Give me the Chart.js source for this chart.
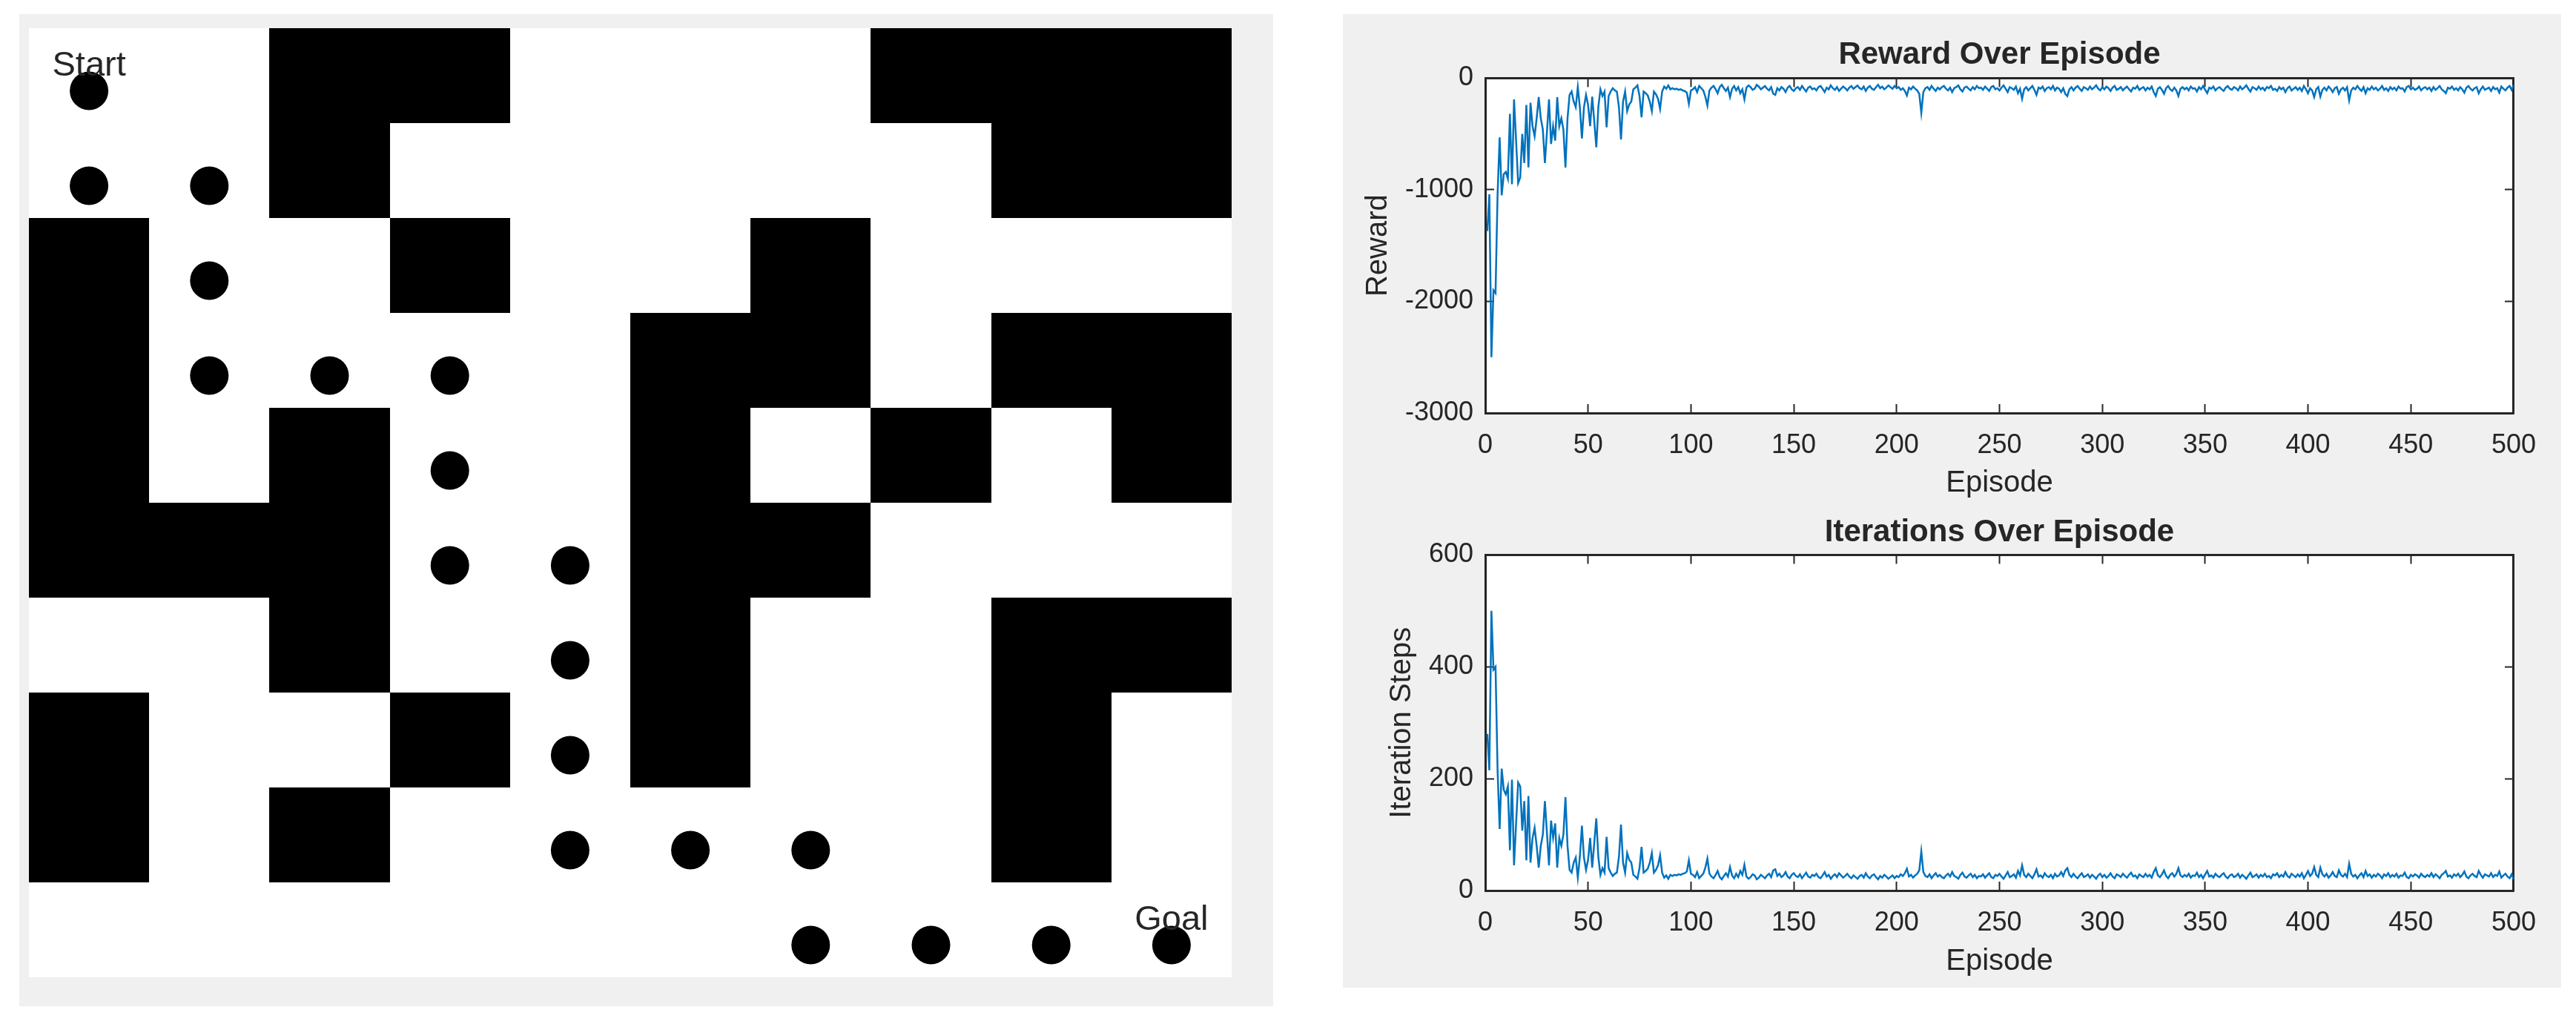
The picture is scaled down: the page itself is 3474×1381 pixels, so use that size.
<!DOCTYPE html>
<html>
<head>
<meta charset="utf-8">
<script src="https://cdn.jsdelivr.net/npm/chart.js@4.4.1/dist/chart.umd.min.js"></script>
<style>
html,body{margin:0;padding:0;background:#ffffff;}
body{width:3474px;height:1381px;position:relative;overflow:hidden;}
.panel{position:absolute;background:#f0f0f0;}
canvas{position:absolute;}
</style>
</head>
<body>
<div class="panel" style="left:26px;top:19px;width:1691px;height:1338px"></div>
<div class="panel" style="left:1811px;top:19px;width:1643px;height:1313px"></div>
<canvas id="maze" width="1622" height="1280" style="left:39px;top:38px;background:#ffffff"></canvas>
<canvas id="reward" width="1643" height="666" style="left:1811px;top:19px"></canvas>
<canvas id="steps" width="1643" height="647" style="left:1811px;top:685px"></canvas>
<script>
// ---------------- Maze data ----------------
const mazeGrid = [
  [0,0,1,1,0,0,0,1,1,1],
  [0,0,1,0,0,0,0,0,1,1],
  [1,0,0,1,0,0,1,0,0,0],
  [1,0,0,0,0,1,1,0,1,1],
  [1,0,1,0,0,1,0,1,0,1],
  [1,1,1,0,0,1,1,0,0,0],
  [0,0,1,0,0,1,0,0,1,1],
  [1,0,0,1,0,1,0,0,1,0],
  [1,0,1,0,0,0,0,0,1,0],
  [0,0,0,0,0,0,0,0,0,0]
];
const pathCols = [0,0,1,1,1,2,3,3,3,4,4,4,4,5,6,6,7,8,9];
const pathRows = [0,1,1,2,3,3,3,4,5,5,6,7,8,8,8,9,9,9,9];
const markerNames = ['Start','Goal'];
const markerCols = [0,9];
const markerRows = [0,9];

// ---------------- Training curves ----------------
const episodeTicks = [0,50,100,150,200,250,300,350,400,450,500];
const rewardTicks = [-3000,-2000,-1000,0];
const stepTicks = [0,200,400,600];
const episodes = Array.from({length:500},(_,i)=>i+1);

const iterationSteps = [
  280,215,500,395,400,215,110,218,180,172,
  186,72,198,45,120,193,186,107,160,54,
  169,50,94,112,80,41,80,100,160,103,
  45,125,94,120,41,94,80,100,167,80,
  37,32,50,59,23,60,116,59,37,55,
  94,41,85,129,59,28,40,32,96,40,
  32,26,30,32,60,118,50,32,67,55,
  50,28,25,21,40,78,32,35,39,50,
  67,32,37,45,63,32,23,27,21,28,
  26,28,27,29,28,30,31,34,54,30,
  28,24,33,22,26,30,41,57,30,25,22,28,35,24,20,26,31,25,42,27,
  22,30,24,35,28,46,25,21,24,29,27,20,23,28,25,22,27,30,24,36,
  38,26,30,24,27,33,25,22,28,31,26,24,29,22,27,32,25,23,28,26,
  30,24,22,27,33,25,28,21,26,29,24,31,27,23,26,30,25,22,27,24,
  21,26,28,23,31,25,22,27,29,24,20,26,23,28,25,21,24,27,22,26,
  24,29,26,31,39,25,28,23,27,30,36,70,33,26,24,29,22,27,31,25,
  28,24,22,27,30,25,33,26,24,21,28,32,25,23,27,30,24,28,22,26,
  25,29,23,27,31,24,22,28,26,30,25,21,27,33,24,26,29,23,35,27,
  45,28,24,30,26,22,29,38,25,27,23,31,26,24,28,22,30,25,27,33,
  26,36,40,28,24,30,25,22,27,31,24,26,29,23,28,25,21,27,30,24,
  28,23,26,31,25,22,29,27,24,30,26,23,28,32,25,27,22,29,26,24,
  30,25,28,23,33,40,27,24,29,36,26,22,28,31,25,30,40,27,24,28,
  25,30,23,27,26,32,24,28,22,29,35,25,27,23,30,26,24,28,31,25,
  22,27,29,24,26,30,23,28,25,21,27,32,24,26,29,23,28,25,30,24,
  26,22,29,27,31,24,28,25,33,26,23,30,27,24,29,25,31,22,28,35,
  26,30,42,28,24,41,29,25,30,23,27,33,26,24,36,28,25,30,24,48,
  30,25,28,22,27,31,24,35,26,29,23,28,25,30,27,22,29,26,31,24,
  28,25,30,23,27,26,32,24,22,28,25,29,27,23,30,26,24,28,25,31,
  24,29,26,22,28,31,35,25,27,23,29,26,30,24,28,34,25,22,27,30,
  26,24,35,28,23,29,27,25,31,24,28,26,34,23,27,30,25,22,29,20
];

const rewardValues = [
  -1370,-1040,-2500,-1900,-1925,-1040,-530,-1050,-860,-840,
  -900,-320,-950,-190,-560,-940,-890,-500,-760,-240,
  -800,-220,-430,-520,-360,-170,-360,-460,-760,-480,
  -190,-590,-430,-560,-170,-430,-360,-460,-800,-360,
  -150,-120,-210,-260,-80,-260,-540,-260,-150,-240,
  -430,-165,-385,-620,-255,-100,-160,-120,-440,-160,
  -120,-90,-110,-120,-260,-550,-210,-120,-295,-235,
  -210,-100,-85,-65,-160,-350,-120,-135,-155,-210,
  -295,-120,-145,-185,-275,-120,-75,-95,-65,-100,
  -90,-100,-95,-105,-100,-110,-115,-130,-230,-110,
  -100,-80,-125,-70,-90,-110,-165,-245,-110,-85,-70,-100,-135,-80,-60,-90,-115,-85,-170,-95,
  -70,-110,-80,-135,-100,-190,-85,-65,-80,-105,-95,-60,-75,-100,-85,-70,-95,-110,-80,-140,
  -150,-90,-110,-80,-95,-125,-85,-70,-100,-115,-90,-80,-105,-70,-95,-120,-85,-75,-100,-90,
  -110,-80,-70,-95,-125,-85,-100,-65,-90,-105,-80,-115,-95,-75,-90,-110,-85,-70,-95,-80,
  -65,-90,-100,-75,-115,-85,-70,-95,-105,-80,-60,-90,-75,-100,-85,-65,-80,-95,-70,-90,
  -80,-105,-90,-115,-155,-85,-100,-75,-95,-110,-140,-310,-125,-90,-80,-105,-70,-95,-115,-85,
  -100,-80,-70,-95,-110,-85,-125,-90,-80,-65,-100,-120,-85,-75,-95,-110,-80,-100,-70,-90,
  -85,-105,-75,-95,-115,-80,-70,-100,-90,-110,-85,-65,-95,-125,-80,-90,-105,-75,-135,-95,
  -185,-100,-80,-110,-90,-70,-105,-150,-85,-95,-75,-115,-90,-80,-100,-70,-110,-85,-95,-125,
  -90,-140,-160,-100,-80,-110,-85,-70,-95,-115,-80,-90,-105,-75,-100,-85,-65,-95,-110,-80,
  -100,-75,-90,-115,-85,-70,-105,-95,-80,-110,-90,-75,-100,-120,-85,-95,-70,-105,-90,-80,
  -110,-85,-100,-75,-125,-160,-95,-80,-105,-140,-90,-70,-100,-115,-85,-110,-160,-95,-80,-100,
  -85,-110,-75,-95,-90,-120,-80,-100,-70,-105,-135,-85,-95,-75,-110,-90,-80,-100,-115,-85,
  -70,-95,-105,-80,-90,-110,-75,-100,-85,-65,-95,-120,-80,-90,-105,-75,-100,-85,-110,-80,
  -90,-70,-105,-95,-115,-80,-100,-85,-125,-90,-75,-110,-95,-80,-105,-85,-115,-70,-100,-135,
  -90,-110,-170,-100,-80,-165,-105,-85,-110,-75,-95,-125,-90,-80,-140,-100,-85,-110,-80,-200,
  -110,-85,-100,-70,-95,-115,-80,-135,-90,-105,-75,-100,-85,-110,-95,-70,-105,-90,-115,-80,
  -100,-85,-110,-75,-95,-90,-120,-80,-70,-100,-85,-105,-95,-75,-110,-90,-80,-100,-85,-115,
  -80,-105,-90,-70,-100,-115,-135,-85,-95,-75,-105,-90,-110,-80,-100,-130,-85,-70,-95,-110,
  -90,-80,-135,-100,-75,-105,-95,-85,-115,-80,-100,-90,-130,-75,-95,-110,-85,-70,-105,-60
];

// ---------------- Shared style ----------------
const FONT = '"Liberation Sans", Arial, Helvetica, sans-serif';
const INK = '#262626';
const LINE = '#0072BD';
Chart.defaults.font.family = FONT;
Chart.defaults.color = INK;

// ---------------- Maze chart ----------------
const mazePlugin = {
  id: 'mazeCells',
  beforeDatasetsDraw(chart) {
    const {ctx, scales: {x, y}} = chart;
    ctx.save();
    ctx.fillStyle = '#000000';
    mazeGrid.forEach((row, r) => row.forEach((v, c) => {
      if (!v) return;
      const x0 = Math.round(x.getPixelForValue(c)), x1 = Math.round(x.getPixelForValue(c + 1));
      const y0 = Math.round(y.getPixelForValue(r)), y1 = Math.round(y.getPixelForValue(r + 1));
      ctx.fillRect(x0, y0, x1 - x0, y1 - y0);
    }));
    ctx.restore();
  },
  afterDatasetsDraw(chart) {
    const {ctx, scales: {x, y}} = chart;
    ctx.save();
    ctx.fillStyle = INK;
    ctx.font = '47px ' + FONT;
    ctx.textAlign = 'center';
    ctx.textBaseline = 'alphabetic';
    markerNames.forEach((name, i) => {
      ctx.fillText(name, x.getPixelForValue(markerCols[i] + 0.5), y.getPixelForValue(markerRows[i] + 0.5));
    });
    ctx.restore();
  }
};

new Chart(document.getElementById('maze'), {
  type: 'scatter',
  data: {
    datasets: [{
      data: pathCols.map((c, i) => ({x: c + 0.5, y: pathRows[i] + 0.5})),
      yAxisID: 'yd',
      pointRadius: 26,
      pointBackgroundColor: '#000000',
      pointBorderWidth: 0,
      showLine: false,
      clip: false
    }]
  },
  options: {
    responsive: false,
    animation: false,
    events: [],
    layout: {padding: 0, autoPadding: false},
    plugins: {legend: {display: false}, tooltip: {enabled: false}},
    scales: {
      x: {type: 'linear', min: 0, max: 10, display: false},
      y: {type: 'linear', min: 0, max: 10, reverse: true, display: false},
      yd: {type: 'linear', axis: 'y', min: -0.16, max: 9.84, reverse: true, display: false}
    }
  },
  plugins: [mazePlugin]
});

// ---------------- Line charts ----------------
const whiteArea = {
  id: 'whiteArea',
  beforeDraw(chart) {
    const {ctx, chartArea: a} = chart;
    ctx.save();
    ctx.fillStyle = '#ffffff';
    ctx.fillRect(a.left, a.top, a.right - a.left, a.bottom - a.top);
    ctx.restore();
  }
};
function tickSetter(list) {
  return s => { s.ticks = list.map(v => ({value: v})); };
}
function boxGrid() {
  return {display: true, drawOnChartArea: false, drawTicks: true, tickLength: -12,
          tickColor: INK, tickWidth: 2, color: 'rgba(0,0,0,0)'};
}
function boxBorder() { return {display: true, color: INK, width: 3}; }

function makeLine(id, values, yTickList, cfg) {
  const yMin = yTickList[0], yMax = yTickList[yTickList.length - 1];
  return new Chart(document.getElementById(id), {
    type: 'line',
    data: {
      labels: episodes,
      datasets: [{
        data: values,
        borderColor: LINE,
        borderWidth: 2.5,
        pointRadius: 0,
        tension: 0,
        fill: false
      }]
    },
    options: {
      responsive: false,
      animation: false,
      events: [],
      layout: {padding: {left: 0, right: 50, top: 0, bottom: 0}, autoPadding: false},
      plugins: {
        legend: {display: false},
        tooltip: {enabled: false},
        title: {
          display: true, text: cfg.title, color: INK, fullSize: false,
          font: {size: 42, weight: 'bold'},
          padding: {top: cfg.titleTop, bottom: cfg.titleBottom}
        }
      },
      scales: {
        x: {
          type: 'linear', position: 'bottom', min: 0, max: 500,
          afterBuildTicks: tickSetter(episodeTicks),
          afterFit: s => { s.height = cfg.xHeight; },
          ticks: {font: {size: 36}, color: INK, padding: 34, maxRotation: 0, autoSkip: false,
                  callback: v => String(v)},
          grid: boxGrid(),
          border: boxBorder(),
          title: {display: true, text: 'Episode', color: INK, font: {size: 40},
                  padding: {top: 0, bottom: cfg.xTitleBottom}}
        },
        x2: {
          type: 'linear', axis: 'x', position: 'top', min: 0, max: 500,
          afterBuildTicks: tickSetter(episodeTicks),
          afterFit: s => { s.height = 0; },
          ticks: {display: false},
          grid: boxGrid(),
          border: boxBorder()
        },
        y: {
          type: 'linear', position: 'left', min: yMin, max: yMax,
          afterBuildTicks: tickSetter(yTickList),
          afterFit: s => { s.width = 192; },
          ticks: {font: {size: 36}, color: INK, padding: 28, autoSkip: false,
                  callback: v => String(v)},
          grid: boxGrid(),
          border: boxBorder(),
          title: {display: true, text: cfg.yTitle, color: INK, font: {size: 40},
                  padding: {top: cfg.yTitlePad, bottom: 0}}
        },
        y2: {
          type: 'linear', axis: 'y', position: 'right', min: yMin, max: yMax,
          afterBuildTicks: tickSetter(yTickList),
          afterFit: s => { s.width = 0; },
          ticks: {display: false},
          grid: boxGrid(),
          border: boxBorder()
        }
      }
    },
    plugins: [whiteArea]
  });
}

makeLine('reward', rewardValues, rewardTicks, {
  title: 'Reward Over Episode', titleTop: 30, titleBottom: 6,
  xHeight: 128, xTitleBottom: 9, yTitle: 'Reward', yTitlePad: 24
});
makeLine('steps', iterationSteps, stepTicks, {
  title: 'Iterations Over Episode', titleTop: 8, titleBottom: 5,
  xHeight: 131, xTitleBottom: 11, yTitle: 'Iteration Steps', yTitlePad: 56
});
</script>
</body>
</html>
